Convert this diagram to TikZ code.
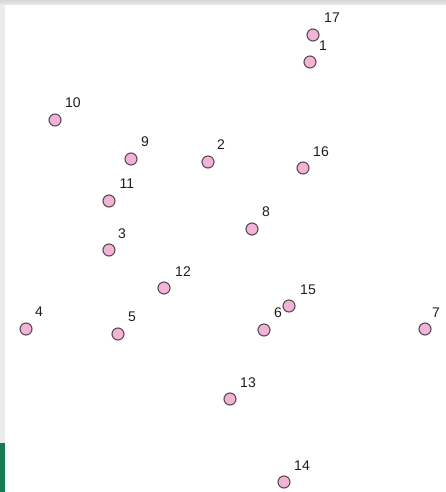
\documentclass[tikz,border=0pt]{standalone}
\usepackage{fontspec}
\setmainfont{Liberation Sans}
\definecolor{ptfill}{HTML}{F2B3D6}
\definecolor{ptdraw}{HTML}{5A4A52}
\definecolor{lbl}{HTML}{1E1E1E}
\definecolor{frame}{HTML}{EBEBEB}
\definecolor{greenbar}{HTML}{167A52}
\begin{document}
\begin{tikzpicture}[x=1pt,y=-1pt,
  pt/.style={circle,draw=ptdraw,fill=ptfill,line width=1.1pt,minimum size=12pt,inner sep=0pt},
  lb/.style={text=lbl,font=\fontsize{14}{14}\selectfont,inner sep=0pt,anchor=center}]
\useasboundingbox (0,0) rectangle (446,492);
\fill[white] (0,0) rectangle (446,492);
\shade[top color=frame!80!gray,bottom color=frame] (0,0) rectangle (446,5);
\fill[frame] (0,5) rectangle (5,443);
\fill[greenbar] (0,443) rectangle (4.5,492);
% points
\node[pt] (p17) at (313,35) {};
\node[pt] (p1) at (310,62) {};
\node[pt] (p10) at (55,120) {};
\node[pt] (p9) at (131,159) {};
\node[pt] (p2) at (208,162) {};
\node[pt] (p16) at (303,168) {};
\node[pt] (p11) at (109,201) {};
\node[pt] (p8) at (252,229) {};
\node[pt] (p3) at (109,250) {};
\node[pt] (p12) at (164,288) {};
\node[pt] (p4) at (26,329) {};
\node[pt] (p5) at (118,334) {};
\node[pt] (p15) at (289,306) {};
\node[pt] (p6) at (264,330) {};
\node[pt] (p7) at (425,329) {};
\node[pt] (p13) at (230,399) {};
\node[pt] (p14) at (284,482) {};
% labels
\node[lb] (l17) at (332,18) {17};
\node[lb] (l1) at (323,46) {1};
\node[lb] (l10) at (73,103) {10};
\node[lb] (l9) at (145,142) {9};
\node[lb] (l2) at (221,145) {2};
\node[lb] (l16) at (321,152) {16};
\node[lb] (l11) at (127,184) {11};
\node[lb] (l8) at (266,212) {8};
\node[lb] (l3) at (122,234) {3};
\node[lb] (l12) at (183,272) {12};
\node[lb] (l4) at (39,312) {4};
\node[lb] (l5) at (132,317) {5};
\node[lb] (l15) at (308,290) {15};
\node[lb] (l6) at (278,313) {6};
\node[lb] (l7) at (436,313) {7};
\node[lb] (l13) at (248,383) {13};
\node[lb] (l14) at (302,466) {14};
\end{tikzpicture}
\end{document}
